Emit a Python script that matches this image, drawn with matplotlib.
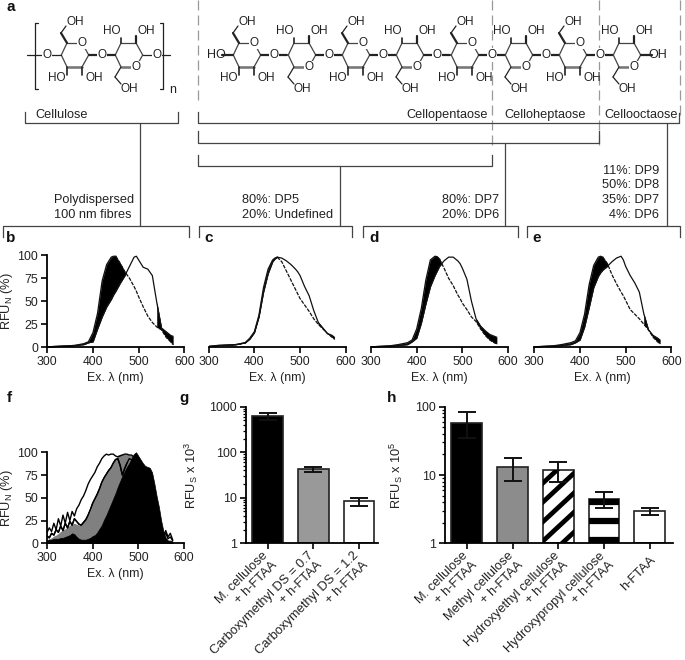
import matplotlib
matplotlib.use("Agg")
from matplotlib import pyplot as plt
from matplotlib.lines import Line2D
from matplotlib.ticker import NullFormatter, LogLocator
from matplotlib.transforms import Affine2D, ScaledTranslation

W, H = 685, 660
plt.rcParams['font.family'] = ['Liberation Sans', 'DejaVu Sans']
plt.rcParams['mathtext.default'] = 'regular'
TXT = '#222222'

# spectra b-e, same wavelengths for all
wl = [300, 320, 340, 360, 380, 390, 400, 410, 420, 430, 440, 445, 450, 460, 470, 480, 490, 495, 500, 510, 520, 530, 540, 550, 560, 570, 575]
b_blue = [0.5, 1, 1.5, 2, 4, 6, 16, 37, 72, 90, 98, 99, 99, 91, 82, 75, 66, 61, 55, 44, 34, 27, 22, 19, 11, 6, 3]
b_red = [0.5, 1, 1.5, 2, 3, 5, 6, 20, 33, 44, 52, 57, 61, 70, 78, 88, 98, 99, 95, 87, 85, 78, 48, 21, 17, 13, 12]
c_blue = [1, 2, 2.5, 3, 5, 10, 17, 35, 65, 85, 95, 97, 98, 93, 83, 73, 63, 58, 53, 46, 39, 31, 25, 20, 15, 11, 9]
c_red = [1, 2, 2.5, 3, 5, 9, 16, 33, 60, 80, 93, 96, 98, 97, 94, 90, 85, 82, 78, 66, 56, 40, 27, 21, 15, 13, 11]
d_blue = [0.5, 1, 1.5, 3, 5, 8, 20, 42, 73, 95, 99, 98.5, 96, 86, 75, 67, 57, 53, 48, 41, 33, 28, 20, 13, 8, 5, 4]
d_red = [0.5, 1, 1.5, 2, 3, 6, 10, 26, 47, 66, 78, 83, 88, 94, 98, 98, 94, 91, 86, 74, 50, 31, 23, 18, 14, 12, 11]
e_blue = [0.5, 1, 1.5, 3, 5, 7, 16, 36, 68, 89, 98, 99, 98, 91, 79, 69, 60, 56, 51, 41, 36, 31, 25, 19, 11, 6, 4]
e_red = [0.5, 1, 1.5, 2, 3, 5, 8, 22, 43, 65, 77, 81, 84, 88, 93, 97, 99, 95, 88, 78, 70, 60, 36, 19, 13, 10, 8]
panels = [('b', 47.3, b_blue, b_red, 548), ('c', 208.7, c_blue, c_red, 541), ('d', 371, d_blue, d_red, 532), ('e', 534.3, e_blue, e_red, 548)]

# spectra f
wl_f = list(range(300, 580, 5))
f_outer = [12, 17, 13, 22, 15, 27, 19, 31, 22, 34, 25, 35, 30, 38, 42, 48, 52, 58, 65, 70,
           74, 78, 84, 88, 93, 96, 98, 97, 98, 98, 96, 95, 96, 97, 98, 98, 97, 97, 95, 90,
           84, 76, 68, 60, 50, 40, 30, 20, 14, 10, 6, 8, 14, 7, 11, 4]
f_inner = [8, 6, 11, 9, 15, 12, 19, 14, 22, 17, 24, 20, 27, 24, 21, 20, 23, 26, 31, 37,
           44, 49, 54, 60, 67, 72, 76, 80, 83, 88, 92, 93, 86, 75, 82, 88, 93, 92, 88, 80,
           72, 65, 58, 50, 40, 28, 18, 12, 9, 6, 3, 8, 11, 5, 7, 3]
f_gray = [4, 5, 6, 8, 9, 11, 13, 15, 16, 18, 20, 21, 22, 21, 20, 21, 24, 27, 31, 36,
          44, 49, 54, 60, 67, 72, 76, 80, 83, 88, 92, 97, 98, 98, 98, 98, 97, 97, 95, 88,
          80, 70, 60, 50, 40, 30, 20, 12, 8, 5, 3, 2, 2, 1, 1, 1]
f_black = [3, 4, 4, 5, 5, 5, 6, 6, 7, 8, 9, 11, 10, 7, 5, 4, 4, 4, 5, 6,
           8, 9, 12, 16, 20, 26, 31, 37, 43, 49, 55, 62, 68, 74, 79, 84, 88, 93, 98, 100,
           96, 92, 88, 85, 84, 83, 78, 66, 52, 40, 25, 13, 6, 3, 3, 2]

# bars g
g_labels = ['M. cellulose\n+ h-FTAA', 'Carboxymethyl DS = 0.7\n+ h-FTAA', 'Carboxymethyl DS = 1.2\n+ h-FTAA']
g_vals = [620, 43, 8.4]
g_low = [500, 36, 6.6]
g_high = [738, 48, 10]

# bars h
h_labels = ['M. cellulose\n+ h-FTAA', 'Methyl cellulose\n+ h-FTAA', 'Hydroxyethyl cellulose\n+ h-FTAA', 'Hydroxypropyl cellulose\n+ h-FTAA', 'h-FTAA']
h_vals = [58, 13, 11.8, 4.45, 2.94]
h_low = [35, 8.2, 8, 3.3, 2.6]
h_high = [84.5, 17.7, 15.7, 5.6, 3.3]

fig = plt.figure(figsize=(W / 100, H / 100), dpi=100)
px = Affine2D().scale(1, -1).translate(0, H)


def axes_px(left, top, right, bottom, **kw):
    return fig.add_axes([left / W, 1 - bottom / H, (right - left) / W, (bottom - top) / H], **kw)


# layer in pixel coords for the scheme on top
bg = axes_px(0, 0, W, H)
bg.set_xlim(0, W)
bg.set_ylim(H, 0)
bg.axis('off')


def seg(x0, y0, x1, y1, lw=0.9, color='#222222', **kw):
    bg.plot([x0, x1], [y0, y1], color=color, lw=lw, solid_capstyle='round', **kw)


def lab(x, y, s, ha='center', size=8.5):
    bg.text(x, y, s, ha=ha, va='center', fontsize=size, color=TXT)


def oxy(x, y):
    bg.text(x, y, 'O', ha='center', va='center', fontsize=8.5, color=TXT, zorder=5,
            bbox=dict(fc='white', ec='none', pad=0.4))


def ring(cx, cy, o_top):
    pts = [(-13.7, 0), (-8, -12), (7, -12), (13.7, 0), (7, 12), (-8, 12), (-13.7, 0)]
    for p, q in zip(pts[:-1], pts[1:]):
        seg(cx + p[0], cy + p[1], cx + q[0], cy + q[1], color='#444444')
    seg(cx - 8, cy + 12, cx + 7, cy + 12, lw=1.8, color='#777777')
    if o_top:
        oxy(cx + 7, cy - 12.5)
        seg(cx - 8, cy - 12, cx - 14, cy - 22, lw=1.6)
        seg(cx - 14, cy - 22, cx - 9, cy - 29)
        lab(cx, cy - 33, 'OH')
        seg(cx - 8, cy + 12, cx - 8, cy + 20, lw=1.2)
        seg(cx + 7, cy + 12, cx + 7, cy + 20, lw=1.2)
        lab(cx - 18, cy + 23, 'HO')
        lab(cx + 19, cy + 23, 'OH')
    else:
        oxy(cx + 7, cy + 12.5)
        seg(cx - 8, cy - 12, cx - 8, cy - 17, lw=1.2)
        seg(cx + 7, cy - 12, cx + 7, cy - 19, lw=1.6)
        lab(cx - 17, cy - 24, 'HO')
        lab(cx + 17, cy - 24, 'OH')
        seg(cx - 8, cy + 12, cx - 14, cy + 22)
        seg(cx - 14, cy + 22, cx - 8, cy + 29)
        lab(cx, cy + 34, 'OH')


def link(x, y):
    seg(x - 13, y, x, y, lw=1.6)
    seg(x, y, x + 13, y, lw=1.6)
    oxy(x, y)


# cellulose repeat unit
ring(75, 55, True)
ring(129, 55, False)
link(102, 55)
seg(27, 55, 61, 55)
seg(143, 55, 170, 55)
oxy(47, 55)
oxy(157, 55)
seg(38, 23, 35, 23)
seg(35, 23, 35, 89)
seg(35, 89, 38, 89)
seg(160, 23, 163, 23)
seg(163, 23, 163, 89)
seg(163, 89, 160, 89)
lab(173, 90, 'n', size=9)

# oligomer chain
chain = [247, 302, 356, 410, 465, 519, 573, 627]
for i, cx in enumerate(chain):
    ring(cx, 55, i % 2 == 0)
    if i < len(chain) - 1:
        link(cx + 27, 55)
seg(222, 55, 233, 55, lw=1.6)
lab(216, 55, 'HO', size=9)
seg(641, 55, 652, 55, lw=1.6)
lab(658, 55, 'OH', size=9)

# grey dashed separators
for x, y_end in [(198.5, 105), (491.7, 145), (599.3, 145), (680, 115)]:
    bg.plot([x, x], [0, y_end], color='#999999', lw=0.9, dashes=(8, 4))

# brackets
for pts in [
    [(25, 112), (25, 123), (178, 123), (178, 112)],
    [(198, 112), (198, 123), (679, 123), (679, 113)],
    [(198, 131), (198, 143), (599, 143), (599, 131)],
    [(198, 155), (198, 166), (492, 166), (492, 155)],
    [(3, 237), (3, 226), (188.7, 226), (188.7, 237)],
    [(199, 237), (199, 226), (352.3, 226), (352.3, 237)],
    [(363, 237), (363, 226), (517.7, 226), (517.7, 237)],
    [(526.7, 237), (526.7, 226), (680, 226), (680, 237)],
]:
    bg.plot([p[0] for p in pts], [p[1] for p in pts], color='#444444', lw=0.9)
for x, y0 in [(140, 123), (666.7, 123), (505, 143), (340, 166)]:
    seg(x, y0, x, 226, color='#444444')

# scheme text
SCH = 9.2
lab(35, 115, 'Cellulose', ha='left', size=SCH)
lab(487.7, 115, 'Cellopentaose', ha='right', size=SCH)
lab(504, 115, 'Celloheptaose', ha='left', size=SCH)
lab(604, 115, 'Cellooctaose', ha='left', size=SCH)
lab(54, 200, 'Polydispersed', ha='left', size=SCH)
lab(54, 215, '100 nm fibres', ha='left', size=SCH)
lab(242, 200, '80%: DP5', ha='left', size=SCH)
lab(242, 215, '20%: Undefined', ha='left', size=SCH)
lab(441.7, 200, '80%: DP7', ha='left', size=SCH)
lab(441.7, 215, '20%: DP6', ha='left', size=SCH)
for y, s in [(171, '11%: DP9'), (185, '50%: DP8'), (200, '35%: DP7'), (215, '4%: DP6')]:
    lab(659, y, s, ha='right', size=SCH)

# panel letters
for x, y, s in [(11, 7, 'a'), (11, 238, 'b'), (209, 238, 'c'), (374, 238, 'd'), (537, 238, 'e'), (9, 398, 'f'), (184, 398, 'g'), (392, 398, 'h')]:
    bg.text(x, y, s, ha='center', va='center', fontsize=11, fontweight='bold', color='#111111')


def style(ax):
    for s in ['top', 'right']:
        ax.spines[s].set_visible(False)
    for s in ['left', 'bottom']:
        ax.spines[s].set_linewidth(1.3)
    ax.tick_params(which='major', length=4.5, width=1.2, labelsize=8.9, pad=2, labelcolor=TXT)
    ax.patch.set_alpha(0)


def spectrum_axes(left, top, bottom, with_y):
    ax = axes_px(left, top, left + 137, bottom)
    style(ax)
    ax.set_xlim(300, 600)
    ax.set_ylim(0, 100)
    ax.set_xticks([300, 400, 500, 600])
    ax.set_xlabel('Ex. λ (nm)', fontsize=8.9, color=TXT, labelpad=2.5)
    if with_y:
        ax.set_yticks([0, 25, 50, 75, 100])
        ax.set_ylabel('RFU$_{N}$ (%)', fontsize=9.2, color=TXT)
        ax.yaxis.set_label_coords((15 - left) / 137, 0.5)
    else:
        ax.spines['left'].set_visible(False)
        ax.set_yticks([])
    return ax


# b-e
for name, left, blue, red, tail in panels:
    ax = spectrum_axes(left, 255.3, 347.3, name == 'b')
    ax.fill_between(wl, blue, red, where=[u >= v and x < 520 for u, v, x in zip(blue, red, wl)], color='black', lw=0.3, interpolate=True)
    ax.fill_between(wl, blue, red, where=[x >= tail - 10 and (x >= tail or u >= v) for u, v, x in zip(red, blue, wl)], color='black', lw=0.3, interpolate=False)
    ax.plot(wl, red, color='#111111', lw=0.9)
    rise = [i for i, x in enumerate(wl) if x <= 450]
    fall = [i for i, x in enumerate(wl) if x >= 450]
    ax.plot([wl[i] for i in rise], [blue[i] for i in rise], color='#111111', lw=0.9)
    ax.plot([wl[i] for i in fall], [blue[i] for i in fall], color='#111111', lw=0.9, dashes=(3, 1))

# f
ax = spectrum_axes(47, 452.3, 543.3, True)
ax.plot(wl_f, f_outer, color='black', lw=1.0)
ax.plot(wl_f, f_inner, color='black', lw=1.0)
ax.fill_between(wl_f, 0, f_gray, color='#808080', lw=0)
ax.plot(wl_f[:36], f_inner[:36], color='black', lw=1.0)
ax.fill_between(wl_f, 0, f_black, color='black', lw=0.5)


def bar_axes(left, right, vals, low, high, labels, ylim, yticks, ylabel, colors, label_x, shift):
    ax = axes_px(left, 406.7, right, 543.3)
    style(ax)
    ax.set_yscale('log')
    pos = list(range(len(vals)))
    x_low = -(21.8 / 45.7)
    ax.set_xlim(x_low, x_low + (right - left) / 45.7)
    ax.set_ylim(*ylim)
    bars = ax.bar(pos, [v - ylim[0] for v in vals], bottom=ylim[0], width=0.67, color=colors, edgecolor='#222222', linewidth=1.2, zorder=2)
    for x, v, lo, hi in zip(pos, vals, low, high):
        ax.errorbar(x, v, yerr=[[v - lo], [hi - v]], color='#111111', elinewidth=1.4, capsize=6.5, capthick=1.4, zorder=4)
    ax.set_xticks(pos)
    ax.set_xticklabels(labels, rotation=45, ha='right', va='center', rotation_mode='anchor', fontsize=9.3, linespacing=1.1, multialignment='right')
    ax.tick_params(axis='x', length=4.5, pad=6.5)
    offset = ScaledTranslation(shift / 100, 0, fig.dpi_scale_trans)
    for t in ax.get_xticklabels():
        t.set_transform(t.get_transform() + offset)
    ax.set_yticks(yticks)
    ax.set_yticklabels([str(t) for t in yticks])
    ax.yaxis.set_minor_locator(LogLocator(base=10, subs=[2, 3, 4, 5, 6, 7, 8, 9], numticks=12))
    ax.yaxis.set_minor_formatter(NullFormatter())
    ax.tick_params(axis='y', which='minor', length=2.5, width=0.9)
    ax.set_ylabel(ylabel, fontsize=9.2, color=TXT)
    ax.yaxis.set_label_coords((label_x - left) / (right - left), 0.5)
    return ax, bars


ax_g, bars_g = bar_axes(245.7, 378, g_vals, g_low, g_high, g_labels, (1, 1000), [1, 10, 100, 1000], 'RFU$_{S}$ x 10$^{3}$', ['black', '#999999', 'white'], 200, 3)
ax_h, bars_h = bar_axes(445, 672.7, h_vals, h_low, h_high, h_labels, (1, 100), [1, 10, 100], 'RFU$_{S}$ x 10$^{5}$', ['black', '#8c8c8c', 'white', 'white', 'white'], 405, 4)

# stripes of bar 3 and bands of bar 4 in h, clipped to the bar
for y0 in [483, 502, 521.7, 541, 561]:
    stripe = Line2D([543, 573.7], [y0, y0 - 28.5], color='black', lw=3.4, transform=px, zorder=3, solid_capstyle='projecting')
    ax_h.add_line(stripe)
    stripe.set_clip_path(bars_h[2])
for y0 in [502, 520.8, 540]:
    band = Line2D([585, 625], [y0, y0], color='black', lw=4.5, transform=px, zorder=3, solid_capstyle='butt')
    ax_h.add_line(band)
    band.set_clip_path(bars_h[3])

fig.savefig('out.png', dpi=100)
